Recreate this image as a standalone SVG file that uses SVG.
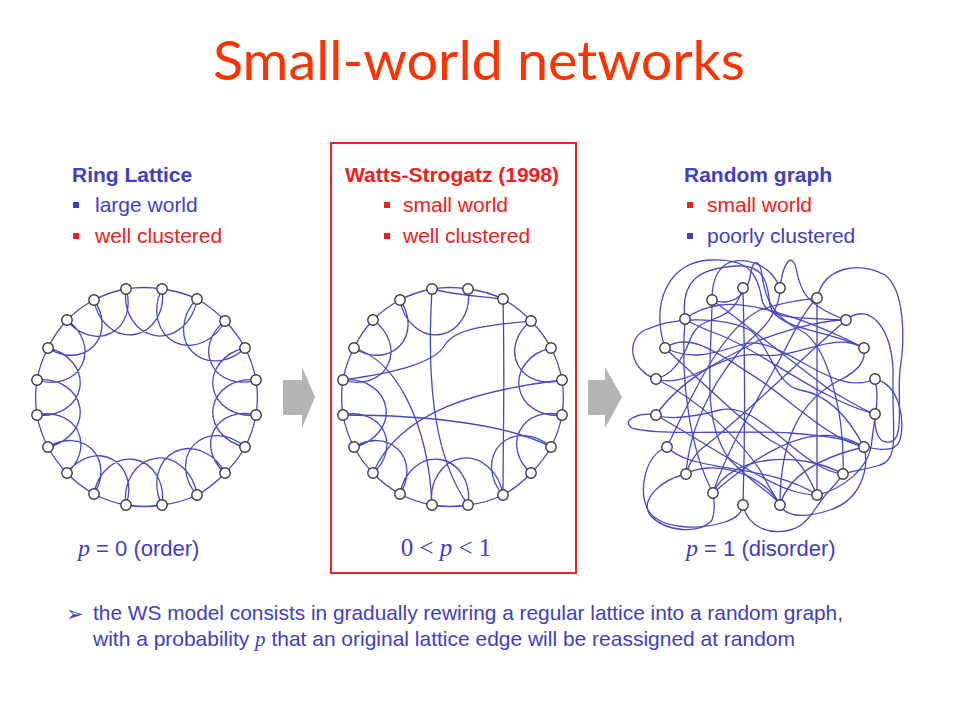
<svg xmlns="http://www.w3.org/2000/svg" width="960" height="720" viewBox="0 0 960 720">
<style>
.e{fill:none;stroke:#4848c4;stroke-width:1.3;stroke-linecap:round}
.n{fill:#fff;stroke:#3a3a3a;stroke-width:1.4}
.hb{font-family:"Liberation Sans",Arial,sans-serif;font-weight:bold;font-size:21px}
.t{font-family:"Liberation Sans",Arial,sans-serif;font-size:21px}
.blue{fill:#4040bf}
.red{fill:#f02020}
.arrow{fill:#b4b4b4}
.math{font-family:"Liberation Serif","Times New Roman",serif;font-style:italic}
</style>
<rect width="960" height="720" fill="#fff"/>
<text x="213" y="80" font-family="'Comic Sans MS',Lato,'Open Sans',sans-serif" font-size="54" fill="#ff3300" textLength="532" lengthAdjust="spacingAndGlyphs">Small-world networks</text>

<g id="ring-lattice-header">
<text class="hb blue" x="72" y="182">Ring Lattice</text>
<rect class="blue" x="73" y="202" width="6" height="6"/>
<text class="t blue" x="95" y="212">large world</text>
<rect class="red" x="73" y="233" width="6" height="6"/>
<text class="t red" x="95" y="243">well clustered</text>
</g>

<g id="ws-box">
<rect x="331" y="143" width="245" height="430" fill="none" stroke="#ee2222" stroke-width="2"/>
<text class="hb red" x="345" y="182">Watts-Strogatz (1998)</text>
<rect class="red" x="384" y="202" width="6" height="6"/>
<text class="t red" x="403" y="212">small world</text>
<rect class="red" x="384" y="233" width="6" height="6"/>
<text class="t red" x="403" y="243">well clustered</text>
</g>

<g id="random-header">
<text class="hb blue" x="684" y="182">Random graph</text>
<rect class="red" x="687" y="202" width="6" height="6"/>
<text class="t red" x="707" y="212">small world</text>
<rect class="blue" x="687" y="233" width="6" height="6"/>
<text class="t blue" x="707" y="243">poorly clustered</text>
</g>

<g id="arrows">
<polygon id="arrow1" class="arrow" points="283,380 302,380 302,367 315,397 302,428 302,415 283,415"/>
<polygon id="arrow2" class="arrow" points="588,380 605,380 605,367 622,397 605,428 605,415 588,415"/>
</g>

<g id="connectors">
<!-- ring lattice -->
<path class="e" d="M126,289 A110,110 0 0 1 162,289 A110,110 0 0 1 197,299 A110,110 0 0 1 225,321 A110,110 0 0 1 245,348 A110,110 0 0 1 256,380 A110,110 0 0 1 256,415 A110,110 0 0 1 245,447 A110,110 0 0 1 225,473 A110,110 0 0 1 197,495 A110,110 0 0 1 162,505 A110,110 0 0 1 126,505 A110,110 0 0 1 94,494 A110,110 0 0 1 67,473 A110,110 0 0 1 48,447 A110,110 0 0 1 37,415 A110,110 0 0 1 37,380 A110,110 0 0 1 48,348 A110,110 0 0 1 67,320 A110,110 0 0 1 94,300 A110,110 0 0 1 126,289"/>
<path class="e" d="M126,289 A34,40 9 0 0 197,299 M162,289 A34,40 27 0 0 225,321 M197,299 A34,40 45 0 0 245,348 M225,321 A34,40 63 0 0 256,380 M245,348 A34,40 81 0 0 256,415 M256,380 A34,40 99 0 0 245,447 M256,415 A34,40 117 0 0 225,473 M245,447 A34,40 135 0 0 197,495 M225,473 A34,40 153 0 0 162,505 M197,495 A34,40 171 0 0 126,505 M162,505 A34,40 189 0 0 94,494 M126,505 A34,40 207 0 0 67,473 M94,494 A34,40 225 0 0 48,447 M67,473 A34,40 243 0 0 37,415 M48,447 A34,40 261 0 0 37,380 M37,415 A34,40 279 0 0 48,348 M37,380 A34,40 297 0 0 67,320 M48,348 A34,40 315 0 0 94,300 M67,320 A34,40 333 0 0 126,289 M94,300 A34,40 351 0 0 162,289"/>
<!-- watts-strogatz -->
<path class="e" d="M432,289 A110,110 0 0 1 468,289 A110,110 0 0 1 503,299 A110,110 0 0 1 531,321 A110,110 0 0 1 551,348 A110,110 0 0 1 562,380 A110,110 0 0 1 562,415 A110,110 0 0 1 551,447 A110,110 0 0 1 531,473 A110,110 0 0 1 503,495 A110,110 0 0 1 468,505 A110,110 0 0 1 432,505 A110,110 0 0 1 400,494 A110,110 0 0 1 373,473 A110,110 0 0 1 354,447 A110,110 0 0 1 343,415 A110,110 0 0 1 343,380 A110,110 0 0 1 354,348 A110,110 0 0 1 373,320 A110,110 0 0 1 400,300 A110,110 0 0 1 432,289"/>
<path class="e" d="M400,300 A34,40 351 0 0 468,289 M531,321 A34,40 63 0 0 562,380 M551,348 A34,40 81 0 0 562,415 M562,415 A34,40 117 0 0 531,473 M551,447 A34,40 135 0 0 503,495 M503,495 A34,40 171 0 0 432,505 M468,505 A34,40 189 0 0 400,494 M400,494 A34,40 225 0 0 354,447 M373,473 A34,40 243 0 0 343,415 M354,447 A34,40 261 0 0 343,380 M343,380 A34,40 297 0 0 373,320 M354,348 A34,40 315 0 0 400,300"/>
<path class="e" d="M432,289 C460,296 480,296 503,299"/>
<path class="e" d="M432,289 C426,390 436,460 468,505"/>
<path class="e" d="M354,348 C395,360 428,420 432,505"/>
<path class="e" d="M503,299 C505,380 503,440 503,495"/>
<path class="e" d="M531,321 C490,325 455,328 445,345 C435,362 400,372 343,380"/>
<path class="e" d="M562,380 C480,390 400,410 373,473"/>
<path class="e" d="M343,415 C430,415 510,425 551,447"/>
<!-- random graph -->
<path class="e" d="M743,288 C745,360 745,440 743,505"/>
<path class="e" d="M817,298 L817,495"/>
<path class="e" d="M665,348 C650,300 670,262 710,260 C750,258 758,275 762,300 C766,320 800,318 846,320"/>
<path class="e" d="M685,319 C680,280 700,268 737,266 C765,264 768,285 770,305 C775,330 830,330 864,348"/>
<path class="e" d="M780,288 C783,262 792,252 796,268 C800,290 805,305 846,320"/>
<path class="e" d="M817,298 C825,265 860,262 885,275 C905,290 905,340 900,370 C897,400 905,440 890,442 C878,444 874,430 875,414"/>
<path class="e" d="M846,320 C870,300 895,330 893,380 C892,430 900,460 880,465 C865,470 855,470 843,474"/>
<path class="e" d="M875,379 C900,385 905,420 900,440 C895,455 870,450 850,440 C800,420 740,470 713,493"/>
<path class="e" d="M656,379 C630,370 625,340 645,330 C670,318 720,315 750,330 C770,345 775,385 800,390 C830,395 850,420 864,447"/>
<path class="e" d="M656,415 C640,412 620,420 632,428 C660,436 740,430 790,433 C830,436 855,440 864,447"/>
<path class="e" d="M667,447 C645,455 638,490 648,510 C660,530 700,530 725,522 C740,517 742,510 743,505"/>
<path class="e" d="M743,505 C748,528 770,535 790,530 C810,525 815,505 830,490 C838,482 840,478 843,474"/>
<path class="e" d="M712,300 C712,360 700,420 730,460 C760,490 775,495 780,505"/>
<path class="e" d="M685,319 C680,380 690,450 713,493"/>
<path class="e" d="M665,348 C700,380 740,420 770,440 C800,455 810,480 817,495"/>
<path class="e" d="M656,379 C690,390 720,350 760,355 C800,360 830,330 864,348"/>
<path class="e" d="M656,415 C680,380 720,360 760,340 C800,325 830,320 846,320"/>
<path class="e" d="M686,474 C690,420 720,370 750,340 C775,320 780,300 780,288"/>
<path class="e" d="M713,493 C730,440 770,380 790,340 C800,320 810,305 817,298"/>
<path class="e" d="M780,505 C780,440 800,400 840,380 C860,370 866,360 864,348"/>
<path class="e" d="M817,495 C780,470 720,470 690,460 C675,455 670,450 667,447"/>
<path class="e" d="M843,474 C800,470 760,400 720,410 C690,418 670,420 656,415"/>
<path class="e" d="M864,447 C830,440 790,400 760,380 C720,355 690,330 665,348"/>
<path class="e" d="M875,414 C820,400 760,350 720,335 C700,328 690,322 685,319"/>
<path class="e" d="M743,288 C730,330 700,310 690,340 C680,365 670,375 656,379"/>
<path class="e" d="M712,300 C740,320 790,360 830,390 C855,405 868,412 875,414"/>
<path class="e" d="M686,474 C710,460 760,470 780,505"/>
<path class="e" d="M713,493 C730,455 800,450 843,474"/>
<path class="e" d="M780,505 C790,470 830,455 864,447"/>
<path class="e" d="M817,495 C840,490 870,470 872,440 C874,420 880,400 875,379"/>
<path class="e" d="M780,288 C770,262 740,255 725,265 C715,272 712,285 712,300"/>
<path class="e" d="M712,300 C730,306 745,298 750,278 C752,258 760,258 762,275 C765,300 775,318 800,330 C830,345 845,420 843,474"/>
<path class="e" d="M667,447 C690,400 720,330 760,310 C790,300 805,300 817,298"/>
<path class="e" d="M656,415 C700,440 760,480 790,490 C805,495 812,495 817,495"/>
<path class="e" d="M656,379 C700,400 740,440 760,470 C770,490 778,500 780,505"/>
<path class="e" d="M864,447 C870,470 860,500 830,510 C800,520 785,515 780,505"/>
<path class="e" d="M864,348 C830,330 760,300 720,305 C700,308 690,315 685,319"/>
<path class="e" d="M846,320 C800,360 740,420 700,450 C690,460 688,468 686,474"/>
<path class="e" d="M875,379 C830,400 780,330 740,345 C710,355 690,360 665,348"/>
<path class="e" d="M686,474 C660,480 640,500 650,515 C665,532 700,535 712,520 C716,510 714,500 713,493"/>
</g>

<g id="lattice-nodes">
<circle class="n" cx="126" cy="289" r="5.2"/><circle class="n" cx="162" cy="289" r="5.2"/><circle class="n" cx="197" cy="299" r="5.2"/><circle class="n" cx="225" cy="321" r="5.2"/><circle class="n" cx="245" cy="348" r="5.2"/><circle class="n" cx="256" cy="380" r="5.2"/><circle class="n" cx="256" cy="415" r="5.2"/><circle class="n" cx="245" cy="447" r="5.2"/><circle class="n" cx="225" cy="473" r="5.2"/><circle class="n" cx="197" cy="495" r="5.2"/><circle class="n" cx="162" cy="505" r="5.2"/><circle class="n" cx="126" cy="505" r="5.2"/><circle class="n" cx="94" cy="494" r="5.2"/><circle class="n" cx="67" cy="473" r="5.2"/><circle class="n" cx="48" cy="447" r="5.2"/><circle class="n" cx="37" cy="415" r="5.2"/><circle class="n" cx="37" cy="380" r="5.2"/><circle class="n" cx="48" cy="348" r="5.2"/><circle class="n" cx="67" cy="320" r="5.2"/><circle class="n" cx="94" cy="300" r="5.2"/>
</g>
<g id="ws-nodes">
<circle class="n" cx="432" cy="289" r="5.2"/><circle class="n" cx="468" cy="289" r="5.2"/><circle class="n" cx="503" cy="299" r="5.2"/><circle class="n" cx="531" cy="321" r="5.2"/><circle class="n" cx="551" cy="348" r="5.2"/><circle class="n" cx="562" cy="380" r="5.2"/><circle class="n" cx="562" cy="415" r="5.2"/><circle class="n" cx="551" cy="447" r="5.2"/><circle class="n" cx="531" cy="473" r="5.2"/><circle class="n" cx="503" cy="495" r="5.2"/><circle class="n" cx="468" cy="505" r="5.2"/><circle class="n" cx="432" cy="505" r="5.2"/><circle class="n" cx="400" cy="494" r="5.2"/><circle class="n" cx="373" cy="473" r="5.2"/><circle class="n" cx="354" cy="447" r="5.2"/><circle class="n" cx="343" cy="415" r="5.2"/><circle class="n" cx="343" cy="380" r="5.2"/><circle class="n" cx="354" cy="348" r="5.2"/><circle class="n" cx="373" cy="320" r="5.2"/><circle class="n" cx="400" cy="300" r="5.2"/>
</g>
<g id="random-nodes">
<circle class="n" cx="743" cy="288" r="5.2"/><circle class="n" cx="780" cy="288" r="5.2"/><circle class="n" cx="817" cy="298" r="5.2"/><circle class="n" cx="846" cy="320" r="5.2"/><circle class="n" cx="864" cy="348" r="5.2"/><circle class="n" cx="875" cy="379" r="5.2"/><circle class="n" cx="875" cy="414" r="5.2"/><circle class="n" cx="864" cy="447" r="5.2"/><circle class="n" cx="843" cy="474" r="5.2"/><circle class="n" cx="817" cy="495" r="5.2"/><circle class="n" cx="780" cy="505" r="5.2"/><circle class="n" cx="743" cy="505" r="5.2"/><circle class="n" cx="713" cy="493" r="5.2"/><circle class="n" cx="686" cy="474" r="5.2"/><circle class="n" cx="667" cy="447" r="5.2"/><circle class="n" cx="656" cy="415" r="5.2"/><circle class="n" cx="656" cy="379" r="5.2"/><circle class="n" cx="665" cy="348" r="5.2"/><circle class="n" cx="685" cy="319" r="5.2"/><circle class="n" cx="712" cy="300" r="5.2"/>
</g>

<g id="captions" font-family="'Liberation Sans',Arial,sans-serif" font-size="22" fill="#4040bf">
<text x="78" y="556"><tspan class="math" font-size="24">p</tspan> = 0 (order)</text>
<text x="446" y="556" text-anchor="middle" font-size="25" font-family="'Liberation Serif','Times New Roman',serif">0 &lt; <tspan font-style="italic">p</tspan> &lt; 1</text>
<text x="686" y="556"><tspan class="math" font-size="24">p</tspan> = 1 (disorder)</text>
</g>

<g id="note" font-family="'Liberation Sans',Arial,sans-serif" font-size="21" fill="#4040bf">
<text x="66" y="621" font-family="'DejaVu Sans',sans-serif" font-size="21">➢</text>
<text x="93" y="620" textLength="750" lengthAdjust="spacingAndGlyphs">the WS model consists in gradually rewiring a regular lattice into a random graph,</text>
<text x="93" y="646" textLength="702" lengthAdjust="spacingAndGlyphs">with a probability <tspan class="math">p</tspan> that an original lattice edge will be reassigned at random</text>
</g>
</svg>
